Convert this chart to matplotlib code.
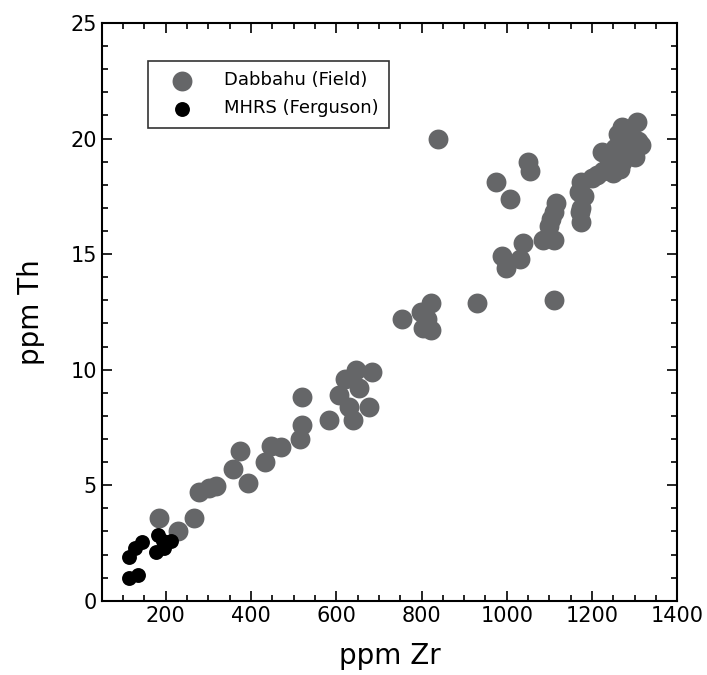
import matplotlib
matplotlib.use('Agg')
import matplotlib.pyplot as plt
from matplotlib.ticker import MultipleLocator

# Dabbahu (Field) - ppm Zr vs ppm Th
dab_zr = [183, 228, 266, 278, 302, 319, 357, 394, 375, 432, 446, 470,
          515, 520, 520, 583, 640, 676, 607, 621, 647, 683, 654, 631,
          754, 799, 804, 822, 822, 812, 839,
          929, 974, 988, 997, 1007, 1031, 1038, 1050, 1055, 1085, 1099,
          1111, 1111, 1104, 1116, 1111,
          1170, 1175, 1175, 1175, 1172, 1180,
          1211, 1223, 1234, 1242, 1250, 1260, 1270, 1270, 1277, 1289,
          1301, 1305, 1308, 1265, 1282, 1296, 1225, 1315, 1248, 1200,
          1255, 1280, 1240, 1265, 1290]
dab_th = [3.6, 3.0, 3.6, 4.7, 4.9, 4.95, 5.7, 5.1, 6.5, 6.0, 6.7, 6.65,
          7.0, 7.6, 8.8, 7.8, 7.8, 8.4, 8.9, 9.6, 10.0, 9.9, 9.2, 8.4,
          12.2, 12.5, 11.8, 12.9, 11.7, 12.2, 20.0,
          12.9, 18.1, 14.9, 14.4, 17.4, 14.8, 15.5, 19.0, 18.6, 15.6, 16.2,
          15.6, 13.0, 16.5, 17.2, 16.8,
          17.7, 18.1, 17.0, 16.4, 16.8, 17.5,
          18.4, 19.4, 18.7, 18.9, 19.2, 20.2, 20.5, 19.0, 19.5, 19.5,
          19.2, 20.7, 19.9, 18.9, 20.0, 19.8, 18.6, 19.7, 18.5, 18.3,
          19.6, 19.2, 19.1, 18.7, 20.1]

# MHRS (Ferguson)
mhrs_zr = [113, 127, 145, 181, 176, 195, 212, 193, 113, 134]
mhrs_th = [1.9, 2.3, 2.55, 2.85, 2.1, 2.3, 2.6, 2.6, 1.0, 1.1]

fig = plt.figure(figsize=(7.07, 6.75), dpi=100)
ax = fig.add_axes([0.144, 0.11, 0.814, 0.856])

ax.scatter(dab_zr, dab_th, s=205, color='#656668', linewidths=0,
           label='Dabbahu (Field)', zorder=2)
ax.scatter(mhrs_zr, mhrs_th, s=115, color='black', linewidths=0,
           label='MHRS (Ferguson)', zorder=3)

ax.set_xlim(50, 1400)
ax.set_ylim(0, 25)
ax.xaxis.set_major_locator(MultipleLocator(200))
ax.xaxis.set_minor_locator(MultipleLocator(50))
ax.yaxis.set_major_locator(MultipleLocator(5))
ax.yaxis.set_minor_locator(MultipleLocator(1))
ax.tick_params(which='both', direction='in', top=True, right=True,
               width=1.2, labelsize=15)
ax.tick_params(which='major', length=7)
ax.tick_params(which='minor', length=4)
for sp in ax.spines.values():
    sp.set_linewidth(1.5)

ax.set_xlabel('ppm Zr', fontsize=20, labelpad=12)
ax.set_ylabel('ppm Th', fontsize=20, labelpad=18)

leg = ax.legend(loc='upper left', bbox_to_anchor=(0.08, 0.935),
                borderaxespad=0, fontsize=13, frameon=True, fancybox=False,
                edgecolor='black', handletextpad=1.0, borderpad=0.6,
                handlelength=2.6, labelspacing=0.55, scatterpoints=1)
leg.get_frame().set_linewidth(1.2)

fig.savefig('out.png', dpi=100)
